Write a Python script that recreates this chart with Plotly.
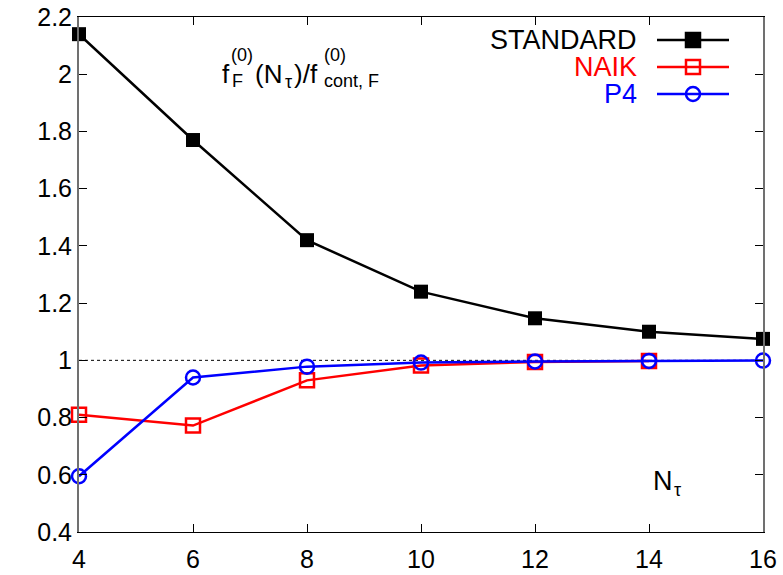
import plotly.graph_objects as go

n_tau = [4, 6, 8, 10, 12, 14, 16]
standard = [2.14, 1.77, 1.42, 1.24, 1.147, 1.10, 1.075]
naik_x = [4, 6, 8, 10, 12, 14]
naik = [0.81, 0.772, 0.93, 0.982, 0.994, 0.998]
p4 = [0.595, 0.94, 0.978, 0.992, 0.996, 0.998, 0.999]
x_ticks = [4, 6, 8, 10, 12, 14, 16]
y_ticks = [0.4, 0.6, 0.8, 1.0, 1.2, 1.4, 1.6, 1.8, 2.0, 2.2]
y_tick_text = ["0.4", "0.6", "0.8", "1", "1.2", "1.4", "1.6", "1.8", "2", "2.2"]

FONT = "Liberation Sans, Arial, sans-serif"
L, R, T, B = 79, 20, 17, 43
W, H = 783, 575
PW, PH = W - L - R, H - T - B


def px(x):
    return (x - L) / PW


def py(y):
    return 1 - (y - T) / PH


fig = go.Figure()

fig.add_trace(go.Scatter(x=[n_tau[0], n_tau[-1]], y=[1, 1], mode="lines",
                         line=dict(color="black", width=1, dash="dot"),
                         showlegend=False, hoverinfo="skip"))
fig.add_trace(go.Scatter(x=naik_x, y=naik, mode="lines+markers", name="NAIK",
                         line=dict(color="#ff0000", width=2.5),
                         marker=dict(symbol="square-open", size=14, color="#ff0000",
                                     line=dict(width=2.5, color="#ff0000")),
                         cliponaxis=False, showlegend=False))
fig.add_trace(go.Scatter(x=n_tau, y=p4, mode="lines+markers", name="P4",
                         line=dict(color="#0000ff", width=2.5),
                         marker=dict(symbol="circle-open", size=14, color="#0000ff",
                                     line=dict(width=2.5, color="#0000ff")),
                         cliponaxis=False, showlegend=False))
fig.add_trace(go.Scatter(x=n_tau, y=standard, mode="lines+markers", name="STANDARD",
                         line=dict(color="black", width=2.5),
                         marker=dict(symbol="square", size=14, color="black"),
                         cliponaxis=False, showlegend=False))

legend_items = [("STANDARD", "black", "rect", True),
                ("NAIK", "#ff0000", "rect", False),
                ("P4", "#0000ff", "circle", False)]
rows_y = [40, 67, 94]
shapes = []
annotations = []
for (name, col, shp, filled), yy in zip(legend_items, rows_y):
    annotations.append(dict(text=name, x=px(638), y=py(yy), xref="paper", yref="paper",
                            xanchor="right", yanchor="middle", showarrow=False,
                            borderpad=0,
                            font=dict(family=FONT, size=27, color=col)))
    shapes.append(dict(type="line", xref="paper", yref="paper", x0=px(657), x1=px(729),
                       y0=py(yy), y1=py(yy), line=dict(color=col, width=2.5)))
    shapes.append(dict(type=shp, xref="paper", yref="paper",
                       xsizemode="pixel", ysizemode="pixel",
                       xanchor=px(693), yanchor=py(yy), x0=-7, x1=7, y0=-7, y1=7,
                       line=dict(color=col, width=2.5),
                       fillcolor=col if filled else "rgba(0,0,0,0)"))


def txt(text, x, y, size, anchor="middle"):
    annotations.append(dict(text=text, x=px(x), y=py(y), xref="paper", yref="paper",
                            xanchor="left", yanchor=anchor, showarrow=False,
                            borderpad=0,
                            font=dict(family=FONT, size=size, color="black")))


# formula label f_F^(0)(N_tau)/f_cont,F^(0)
txt("f", 221, 74, 26)
txt("(0)", 230, 55, 18)
txt("F", 231, 81, 18)
txt("(N", 254, 74, 26)
txt("τ", 284, 82, 18)
txt(")/f", 293, 74, 26)
txt("(0)", 323, 55, 18)
txt("cont, F", 323, 81, 18)

# x-axis label
txt("N", 652, 481, 27)
txt("τ", 673, 490, 18)

fig.update_xaxes(range=[4, 16], tickvals=x_ticks, showgrid=False, zeroline=False,
                 showline=True, linecolor="black", linewidth=1.2, mirror="ticks",
                 ticks="inside", ticklen=8, tickcolor="black", tickwidth=1,
                 automargin=False, ticklabelstandoff=5,
                 tickfont=dict(family=FONT, size=25, color="black"))
fig.update_yaxes(range=[0.4, 2.2], tickvals=y_ticks, ticktext=y_tick_text,
                 showgrid=False, zeroline=False, showline=True, linecolor="#707070",
                 linewidth=2, mirror="ticks", ticks="inside", ticklen=8,
                 tickcolor="black", tickwidth=1, automargin=False,
                 tickfont=dict(family=FONT, size=25, color="black"))

fig.update_layout(width=W, height=H, margin=dict(l=L, r=R, t=T, b=B),
                  paper_bgcolor="white", plot_bgcolor="white",
                  shapes=shapes, annotations=annotations, showlegend=False)
fig.write_html("out.html")
